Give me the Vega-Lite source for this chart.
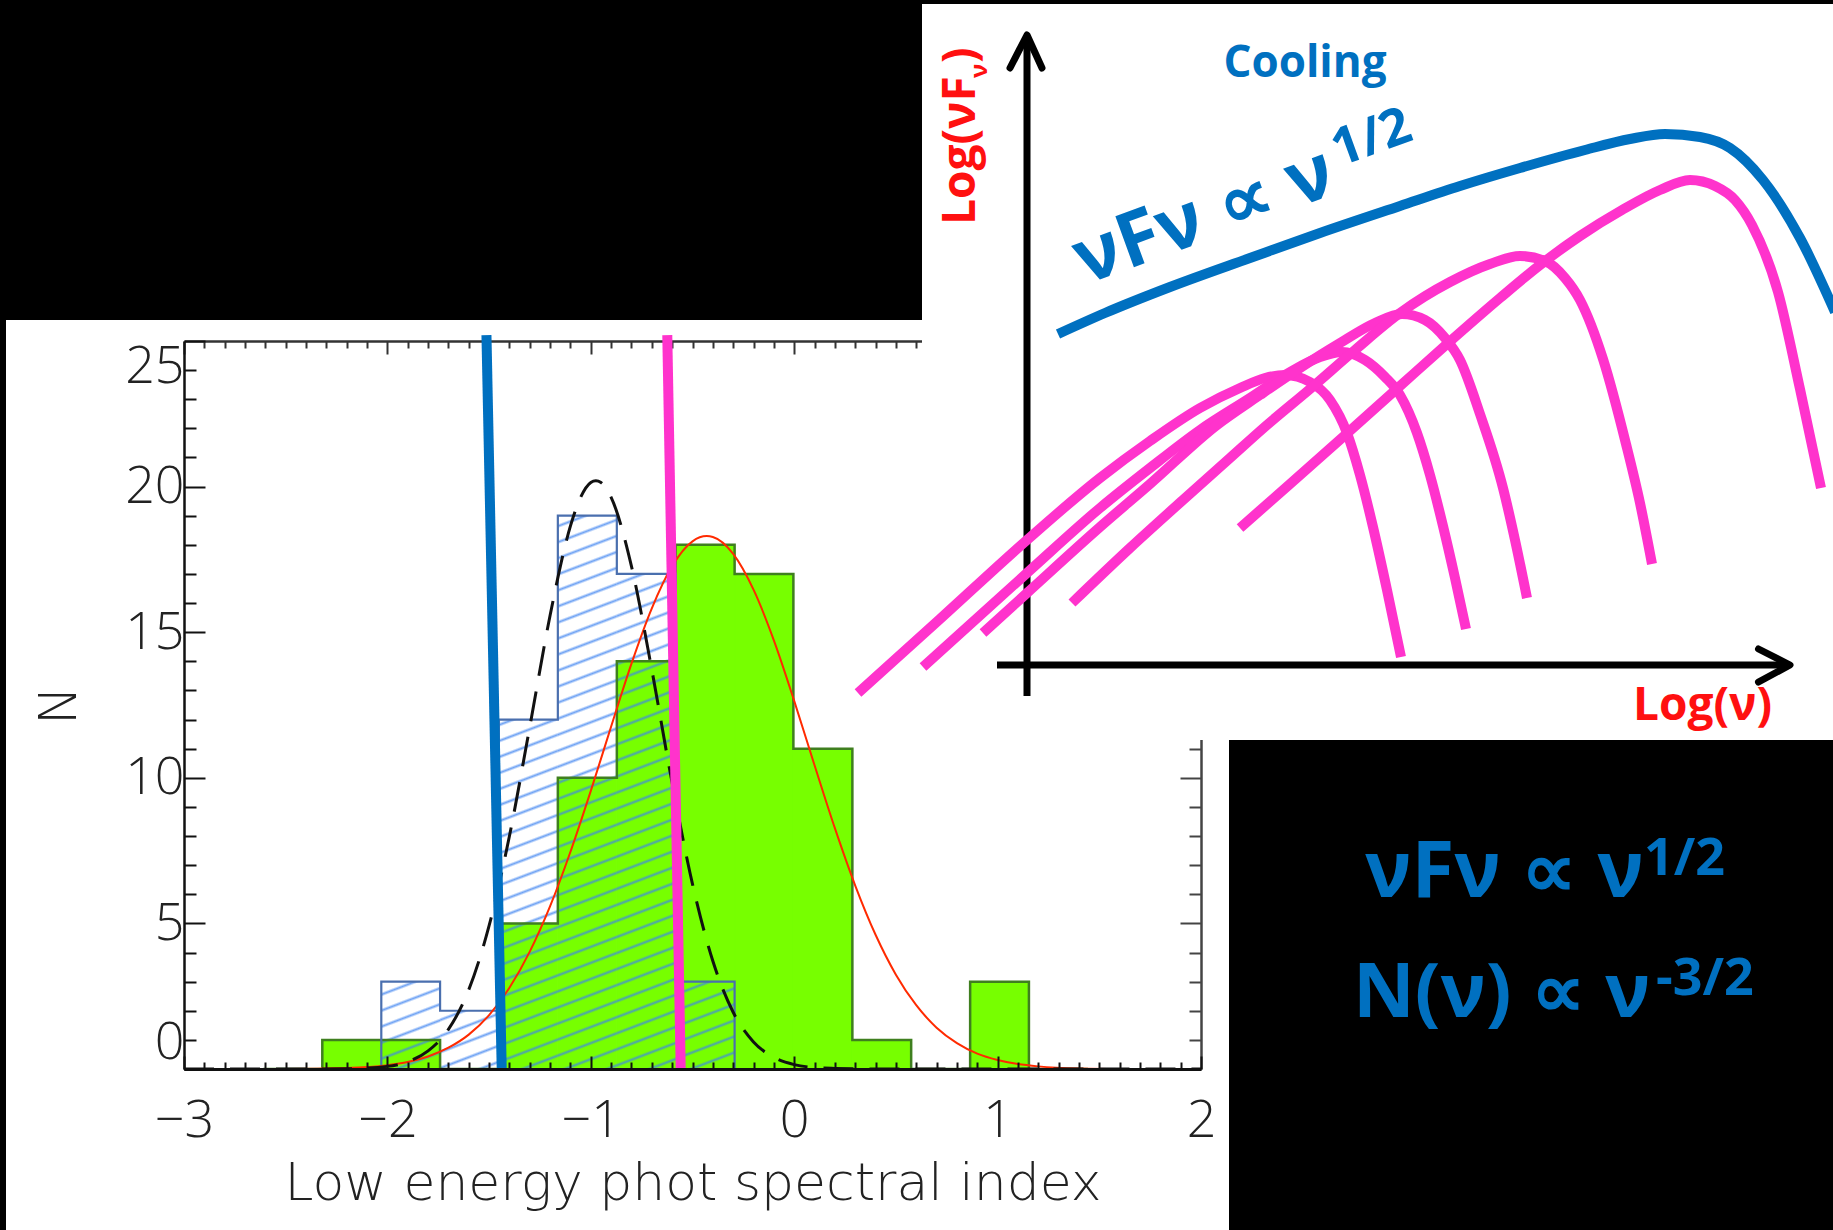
{
"$schema": "https://vega.github.io/schema/vega-lite/v6.json",
"width": 1017,
"height": 728,
"autosize": {"type": "none"},
"padding": {"left": 184, "top": 341, "right": 632, "bottom": 161},
"background": "white",
"config": {"view": {"stroke": null}, "axis": {"labelOverlap": false}},
"datasets": {
"hist": [
{"sample":"A","bin_start":-2.61,"bin_end":-2.32,"count":0},
{"sample":"A","bin_start":-2.32,"bin_end":-2.03,"count":1},
{"sample":"A","bin_start":-2.03,"bin_end":-1.741,"count":1},
{"sample":"A","bin_start":-1.741,"bin_end":-1.452,"count":0},
{"sample":"A","bin_start":-1.452,"bin_end":-1.162,"count":5},
{"sample":"A","bin_start":-1.162,"bin_end":-0.872,"count":10},
{"sample":"A","bin_start":-0.872,"bin_end":-0.583,"count":14},
{"sample":"A","bin_start":-0.583,"bin_end":-0.293,"count":18},
{"sample":"A","bin_start":-0.293,"bin_end":-0.004,"count":17},
{"sample":"A","bin_start":-0.004,"bin_end":0.286,"count":11},
{"sample":"A","bin_start":0.286,"bin_end":0.575,"count":1},
{"sample":"A","bin_start":0.575,"bin_end":0.865,"count":0},
{"sample":"A","bin_start":0.865,"bin_end":1.154,"count":3},
{"sample":"A","bin_start":1.154,"bin_end":1.444,"count":0},
{"sample":"B","bin_start":-2.32,"bin_end":-2.03,"count":0},
{"sample":"B","bin_start":-2.03,"bin_end":-1.741,"count":3},
{"sample":"B","bin_start":-1.741,"bin_end":-1.452,"count":2},
{"sample":"B","bin_start":-1.452,"bin_end":-1.162,"count":12},
{"sample":"B","bin_start":-1.162,"bin_end":-0.872,"count":19},
{"sample":"B","bin_start":-0.872,"bin_end":-0.583,"count":17},
{"sample":"B","bin_start":-0.583,"bin_end":-0.293,"count":3},
{"sample":"B","bin_start":-0.293,"bin_end":-0.004,"count":0}
],
"fits": [
{"fit":"B","alpha":-3.0,"N":0},{"fit":"B","alpha":-2.5,"N":0},{"fit":"B","alpha":-2.2,"N":0.01},{"fit":"B","alpha":-2.0,"N":0.09},
{"fit":"B","alpha":-1.9,"N":0.25},{"fit":"B","alpha":-1.8,"N":0.62},{"fit":"B","alpha":-1.7,"N":1.36},{"fit":"B","alpha":-1.6,"N":2.72},
{"fit":"B","alpha":-1.5,"N":4.92},{"fit":"B","alpha":-1.4,"N":8.0},{"fit":"B","alpha":-1.3,"N":11.75},{"fit":"B","alpha":-1.2,"N":15.58},
{"fit":"B","alpha":-1.1,"N":18.65},{"fit":"B","alpha":-1.05,"N":19.63},{"fit":"B","alpha":-1.0,"N":20.14},{"fit":"B","alpha":-0.975,"N":20.2},
{"fit":"B","alpha":-0.95,"N":20.14},{"fit":"B","alpha":-0.9,"N":19.63},{"fit":"B","alpha":-0.8,"N":17.26},{"fit":"B","alpha":-0.7,"N":13.71},
{"fit":"B","alpha":-0.6,"N":9.82},{"fit":"B","alpha":-0.5,"N":6.35},{"fit":"B","alpha":-0.4,"N":3.71},{"fit":"B","alpha":-0.3,"N":1.95},
{"fit":"B","alpha":-0.2,"N":0.93},{"fit":"B","alpha":-0.1,"N":0.4},{"fit":"B","alpha":0.0,"N":0.15},{"fit":"B","alpha":0.1,"N":0.05},
{"fit":"B","alpha":0.2,"N":0.02},{"fit":"B","alpha":0.4,"N":0},{"fit":"B","alpha":1.0,"N":0},{"fit":"B","alpha":2.0,"N":0},
{"fit":"A","alpha":-3.0,"N":0},{"fit":"A","alpha":-2.5,"N":0.004},{"fit":"A","alpha":-2.2,"N":0.035},{"fit":"A","alpha":-2.0,"N":0.13},
{"fit":"A","alpha":-1.9,"N":0.24},{"fit":"A","alpha":-1.8,"N":0.43},{"fit":"A","alpha":-1.7,"N":0.73},{"fit":"A","alpha":-1.6,"N":1.18},
{"fit":"A","alpha":-1.5,"N":1.85},{"fit":"A","alpha":-1.4,"N":2.79},{"fit":"A","alpha":-1.3,"N":4.03},{"fit":"A","alpha":-1.2,"N":5.59},
{"fit":"A","alpha":-1.1,"N":7.46},{"fit":"A","alpha":-1.0,"N":9.55},{"fit":"A","alpha":-0.9,"N":11.76},{"fit":"A","alpha":-0.8,"N":13.92},
{"fit":"A","alpha":-0.7,"N":15.82},{"fit":"A","alpha":-0.6,"N":17.27},{"fit":"A","alpha":-0.5,"N":18.12},{"fit":"A","alpha":-0.43,"N":18.3},
{"fit":"A","alpha":-0.4,"N":18.27},{"fit":"A","alpha":-0.3,"N":17.69},{"fit":"A","alpha":-0.2,"N":16.46},{"fit":"A","alpha":-0.1,"N":14.72},
{"fit":"A","alpha":0.0,"N":12.64},{"fit":"A","alpha":0.1,"N":10.43},{"fit":"A","alpha":0.2,"N":8.27},{"fit":"A","alpha":0.3,"N":6.3},
{"fit":"A","alpha":0.4,"N":4.61},{"fit":"A","alpha":0.5,"N":3.24},{"fit":"A","alpha":0.6,"N":2.19},{"fit":"A","alpha":0.7,"N":1.42},
{"fit":"A","alpha":0.8,"N":0.89},{"fit":"A","alpha":0.9,"N":0.53},{"fit":"A","alpha":1.0,"N":0.31},{"fit":"A","alpha":1.1,"N":0.17},
{"fit":"A","alpha":1.2,"N":0.09},{"fit":"A","alpha":1.4,"N":0.02},{"fit":"A","alpha":1.6,"N":0.004},{"fit":"A","alpha":2.0,"N":0}
],
"limits": [
{"limit":"cooling (-3/2)","x_top":-1.513,"N_top":25.2,"x_bottom":-1.438,"N_bottom":0},
{"limit":"synchrotron (-2/3)","x_top":-0.624,"N_top":25.2,"x_bottom":-0.558,"N_bottom":0}
],
"sketch": [
{"curve":"axis_x","i":0,"u":-0.3,"v":0},{"curve":"axis_x","i":1,"u":7.63,"v":0},
{"curve":"axis_y","i":0,"u":0,"v":-0.31},{"curve":"axis_y","i":1,"u":0,"v":6.3},
{"curve":"arrow_x","i":0,"u":7.315,"v":0.16},{"curve":"arrow_x","i":1,"u":7.63,"v":0},{"curve":"arrow_x","i":2,"u":7.315,"v":-0.17},
{"curve":"arrow_y","i":0,"u":-0.17,"v":5.97},{"curve":"arrow_y","i":1,"u":0,"v":6.3},{"curve":"arrow_y","i":2,"u":0.15,"v":5.97},
{"curve":"cooling","i":0,"u":0.31,"v":3.31},{"curve":"cooling","i":1,"u":0.78,"v":3.52},{"curve":"cooling","i":2,"u":1.43,"v":3.78},
{"curve":"cooling","i":3,"u":2.23,"v":4.07},{"curve":"cooling","i":4,"u":2.93,"v":4.32},{"curve":"cooling","i":5,"u":3.73,"v":4.59},
{"curve":"cooling","i":6,"u":4.33,"v":4.79},{"curve":"cooling","i":7,"u":4.93,"v":4.97},{"curve":"cooling","i":8,"u":5.58,"v":5.15},
{"curve":"cooling","i":9,"u":6.03,"v":5.26},{"curve":"cooling","i":10,"u":6.38,"v":5.31},{"curve":"cooling","i":11,"u":6.73,"v":5.28},
{"curve":"cooling","i":12,"u":7.03,"v":5.17},{"curve":"cooling","i":13,"u":7.36,"v":4.85},{"curve":"cooling","i":14,"u":7.73,"v":4.27},
{"curve":"cooling","i":15,"u":8.08,"v":3.53},
{"curve":"sync_1","i":0,"u":-1.69,"v":-0.28},{"curve":"sync_1","i":1,"u":-0.87,"v":0.46},{"curve":"sync_1","i":2,"u":0.0,"v":1.25},
{"curve":"sync_1","i":3,"u":0.73,"v":1.87},{"curve":"sync_1","i":4,"u":1.23,"v":2.24},{"curve":"sync_1","i":5,"u":1.73,"v":2.57},
{"curve":"sync_1","i":6,"u":2.13,"v":2.77},{"curve":"sync_1","i":7,"u":2.38,"v":2.87},{"curve":"sync_1","i":8,"u":2.58,"v":2.9},
{"curve":"sync_1","i":9,"u":2.83,"v":2.83},{"curve":"sync_1","i":10,"u":3.03,"v":2.65},{"curve":"sync_1","i":11,"u":3.2,"v":2.32},
{"curve":"sync_1","i":12,"u":3.33,"v":1.9},{"curve":"sync_1","i":13,"u":3.46,"v":1.38},{"curve":"sync_1","i":14,"u":3.6,"v":0.75},
{"curve":"sync_1","i":15,"u":3.74,"v":0.08},
{"curve":"sync_2","i":0,"u":-1.04,"v":-0.02},{"curve":"sync_2","i":1,"u":0.0,"v":0.92},{"curve":"sync_2","i":2,"u":0.73,"v":1.57},
{"curve":"sync_2","i":3,"u":1.23,"v":1.97},{"curve":"sync_2","i":4,"u":1.73,"v":2.35},{"curve":"sync_2","i":5,"u":2.23,"v":2.67},
{"curve":"sync_2","i":6,"u":2.63,"v":2.93},{"curve":"sync_2","i":7,"u":2.93,"v":3.08},{"curve":"sync_2","i":8,"u":3.15,"v":3.13},
{"curve":"sync_2","i":9,"u":3.38,"v":3.05},{"curve":"sync_2","i":10,"u":3.58,"v":2.88},{"curve":"sync_2","i":11,"u":3.73,"v":2.7},
{"curve":"sync_2","i":12,"u":3.9,"v":2.32},{"curve":"sync_2","i":13,"u":4.03,"v":1.9},{"curve":"sync_2","i":14,"u":4.16,"v":1.39},
{"curve":"sync_2","i":15,"u":4.28,"v":0.87},{"curve":"sync_2","i":16,"u":4.39,"v":0.36},
{"curve":"sync_3","i":0,"u":-0.44,"v":0.32},{"curve":"sync_3","i":1,"u":0.0,"v":0.72},{"curve":"sync_3","i":2,"u":0.73,"v":1.38},
{"curve":"sync_3","i":3,"u":1.23,"v":1.81},{"curve":"sync_3","i":4,"u":1.9,"v":2.4},{"curve":"sync_3","i":5,"u":2.33,"v":2.7},
{"curve":"sync_3","i":6,"u":2.73,"v":2.97},{"curve":"sync_3","i":7,"u":3.13,"v":3.22},{"curve":"sync_3","i":8,"u":3.48,"v":3.42},
{"curve":"sync_3","i":9,"u":3.75,"v":3.51},{"curve":"sync_3","i":10,"u":3.98,"v":3.45},{"curve":"sync_3","i":11,"u":4.18,"v":3.27},
{"curve":"sync_3","i":12,"u":4.33,"v":3.05},{"curve":"sync_3","i":13,"u":4.53,"v":2.51},{"curve":"sync_3","i":14,"u":4.76,"v":1.77},
{"curve":"sync_3","i":15,"u":4.88,"v":1.25},{"curve":"sync_3","i":16,"u":5.0,"v":0.67},
{"curve":"sync_4","i":0,"u":0.45,"v":0.62},{"curve":"sync_4","i":1,"u":1.03,"v":1.17},{"curve":"sync_4","i":2,"u":1.56,"v":1.65},
{"curve":"sync_4","i":3,"u":2.03,"v":2.07},{"curve":"sync_4","i":4,"u":2.4,"v":2.4},{"curve":"sync_4","i":5,"u":2.83,"v":2.76},
{"curve":"sync_4","i":6,"u":3.28,"v":3.15},{"curve":"sync_4","i":7,"u":3.73,"v":3.52},{"curve":"sync_4","i":8,"u":4.23,"v":3.83},
{"curve":"sync_4","i":9,"u":4.63,"v":4.01},{"curve":"sync_4","i":10,"u":4.93,"v":4.09},{"curve":"sync_4","i":11,"u":5.18,"v":4.04},
{"curve":"sync_4","i":12,"u":5.38,"v":3.87},{"curve":"sync_4","i":13,"u":5.53,"v":3.65},{"curve":"sync_4","i":14,"u":5.76,"v":3.06},
{"curve":"sync_4","i":15,"u":5.99,"v":2.21},{"curve":"sync_4","i":16,"u":6.13,"v":1.62},{"curve":"sync_4","i":17,"u":6.25,"v":1.01},
{"curve":"sync_5","i":0,"u":2.13,"v":1.37},{"curve":"sync_5","i":1,"u":2.63,"v":1.81},{"curve":"sync_5","i":2,"u":3.16,"v":2.28},
{"curve":"sync_5","i":3,"u":3.73,"v":2.79},{"curve":"sync_5","i":4,"u":4.2,"v":3.21},{"curve":"sync_5","i":5,"u":4.73,"v":3.67},
{"curve":"sync_5","i":6,"u":5.13,"v":4.0},{"curve":"sync_5","i":7,"u":5.53,"v":4.29},{"curve":"sync_5","i":8,"u":5.95,"v":4.55},
{"curve":"sync_5","i":9,"u":6.33,"v":4.75},{"curve":"sync_5","i":10,"u":6.63,"v":4.85},{"curve":"sync_5","i":11,"u":6.88,"v":4.79},
{"curve":"sync_5","i":12,"u":7.08,"v":4.65},{"curve":"sync_5","i":13,"u":7.25,"v":4.4},{"curve":"sync_5","i":14,"u":7.51,"v":3.73},
{"curve":"sync_5","i":15,"u":7.73,"v":2.76},{"curve":"sync_5","i":16,"u":7.94,"v":1.77}
]
},
"layer": [
{
"layer": [
{
"data": {"name": "hist"},
"transform": [{"filter": "datum.sample === 'A'"}],
"mark": {"type": "rect", "fill": "#77ff00", "stroke": "#77ff00", "strokeWidth": 1},
"encoding": {
"x": {"field": "bin_start", "type": "quantitative", "scale": {"domain": [-3, 2], "nice": false, "zero": false},
"axis": {"orient": "bottom", "zindex": 1, "values": [-3,-2,-1,0,1,2], "format": "d",
"tickSize": -13, "tickColor": "#111", "tickWidth": 2, "domainColor": "#111", "domainWidth": 3, "grid": false,
"labelFlush": false, "labelOverlap": false,
"labelFont": "Open Sans", "labelFontWeight": 300, "labelFontSize": 52, "labelColor": "#222", "labelPadding": 39,
"title": "Low energy phot spectral index", "titleFont": "DejaVu Sans", "titleFontWeight": 200, "titleFontSize": 52, "titleColor": "#222", "titlePadding": 12}},
"x2": {"field": "bin_end"},
"y": {"field": "count", "type": "quantitative", "scale": {"domain": [0, 25], "nice": false},
"axis": {"orient": "left", "zindex": 1, "values": [0,1,2,3,4,5,6,7,8,9,10,11,12,13,14,15,16,17,18,19,20,21,22,23,24,25],
"format": "d",
"tickSize": {"condition": {"test": "datum.value % 5 === 0", "value": -21}, "value": -12},
"tickColor": "#111", "tickWidth": 2, "domainColor": "#111", "domainWidth": 2.5, "grid": false,
"labelExpr": "datum.value % 5 === 0 ? datum.label : ''",
"labelFlush": true, "labelOverlap": false,
"labelFont": "Open Sans", "labelFontWeight": 300, "labelFontSize": 52, "labelColor": "#222", "labelPadding": 21,
"title": "N", "titleFont": "DejaVu Sans", "titleFontWeight": 200, "titleFontSize": 52, "titleColor": "#222", "titlePadding": 38}},
"y2": {"datum": 0}
}
},
{
"data": {"name": "hist"},
"transform": [{"filter": "datum.sample === 'B'"}],
"mark": {"type": "rect", "opacity": 0},
"encoding": {
"x": {"field": "bin_start", "type": "quantitative", "scale": {"domain": [-3, 2], "nice": false, "zero": false},
"axis": {"orient": "top", "zindex": 0, "values": [-3,-2.9,-2.8,-2.7,-2.6,-2.5,-2.4,-2.3,-2.2,-2.1,-2,-1.9,-1.8,-1.7,-1.6,-1.5,-1.4,-1.3,-1.2,-1.1,-1,-0.9,-0.8,-0.7,-0.6,-0.5,-0.4,-0.3,-0.2,-0.1,0,0.1,0.2,0.3,0.4,0.5,0.6,0.7,0.8,0.9,1,1.1,1.2,1.3,1.4,1.5,1.6,1.7,1.8,1.9,2],
"tickSize": {"condition": {"test": "datum.value % 1 === 0", "value": -13}, "value": -7},
"tickColor": "#333", "tickWidth": 2, "domainColor": "#333", "domainWidth": 2.5, "grid": false, "labels": false, "title": null}},
"x2": {"field": "bin_end"},
"y": {"field": "count", "type": "quantitative", "scale": {"domain": [0, 25], "nice": false},
"axis": {"orient": "right", "zindex": 0, "values": [0,1,2,3,4,5,6,7,8,9,10,11,12,13,14,15,16,17,18,19,20,21,22,23,24,25],
"tickSize": {"condition": {"test": "datum.value % 5 === 0", "value": -21}, "value": -12},
"tickColor": "#444", "tickWidth": 2, "domainColor": "#444", "domainWidth": 2.5, "grid": false, "labels": false, "title": null}},
"y2": {"datum": 0}
}
},
{
"data": {"name": "hist"},
"transform": [{"filter": "datum.sample === 'B' && datum.count === 2"}],
"mark": {"type": "rect", "fill": {"gradient": "linear", "x1": 0, "y1": 0, "x2": 0.4632, "y2": 1.2061, "stops": [
{"offset":0.0857,"color":"rgba(60,130,240,0)"},{"offset":0.1149,"color":"rgba(60,130,240,0.75)"},{"offset":0.1441,"color":"rgba(60,130,240,0)"},
{"offset":0.2848,"color":"rgba(60,130,240,0)"},{"offset":0.3140,"color":"rgba(60,130,240,0.75)"},{"offset":0.3432,"color":"rgba(60,130,240,0)"},
{"offset":0.4838,"color":"rgba(60,130,240,0)"},{"offset":0.5130,"color":"rgba(60,130,240,0.75)"},{"offset":0.5422,"color":"rgba(60,130,240,0)"},
{"offset":0.6829,"color":"rgba(60,130,240,0)"},{"offset":0.7121,"color":"rgba(60,130,240,0.75)"},{"offset":0.7413,"color":"rgba(60,130,240,0)"},
{"offset":0.8819,"color":"rgba(60,130,240,0)"},{"offset":0.9111,"color":"rgba(60,130,240,0.75)"},{"offset":0.9403,"color":"rgba(60,130,240,0)"}
]}},
"encoding": {
"x": {"field": "bin_start", "type": "quantitative", "scale": {"domain": [-3, 2], "nice": false, "zero": false}, "axis": null},
"x2": {"field": "bin_end"},
"y": {"field": "count", "type": "quantitative", "scale": {"domain": [0, 25], "nice": false}, "axis": null},
"y2": {"datum": 0}
}
},
{
"data": {"name": "hist"},
"transform": [{"filter": "datum.sample === 'B' && datum.count === 3"}],
"mark": {"type": "rect", "fill": {"gradient": "linear", "x1": 0, "y1": 0, "x2": 0.3018, "y2": 1.1788, "stops": [
{"offset":0.0965,"color":"rgba(60,130,240,0)"},{"offset":0.1179,"color":"rgba(60,130,240,0.75)"},{"offset":0.1393,"color":"rgba(60,130,240,0)"},
{"offset":0.2427,"color":"rgba(60,130,240,0)"},{"offset":0.2641,"color":"rgba(60,130,240,0.75)"},{"offset":0.2855,"color":"rgba(60,130,240,0)"},
{"offset":0.3889,"color":"rgba(60,130,240,0)"},{"offset":0.4103,"color":"rgba(60,130,240,0.75)"},{"offset":0.4317,"color":"rgba(60,130,240,0)"},
{"offset":0.5351,"color":"rgba(60,130,240,0)"},{"offset":0.5565,"color":"rgba(60,130,240,0.75)"},{"offset":0.5779,"color":"rgba(60,130,240,0)"},
{"offset":0.6813,"color":"rgba(60,130,240,0)"},{"offset":0.7027,"color":"rgba(60,130,240,0.75)"},{"offset":0.7241,"color":"rgba(60,130,240,0)"},
{"offset":0.8275,"color":"rgba(60,130,240,0)"},{"offset":0.8489,"color":"rgba(60,130,240,0.75)"},{"offset":0.8703,"color":"rgba(60,130,240,0)"}
]}},
"encoding": {
"x": {"field": "bin_start", "type": "quantitative", "scale": {"domain": [-3, 2], "nice": false, "zero": false}, "axis": null},
"x2": {"field": "bin_end"},
"y": {"field": "count", "type": "quantitative", "scale": {"domain": [0, 25], "nice": false}, "axis": null},
"y2": {"datum": 0}
}
},
{
"data": {"name": "hist"},
"transform": [{"filter": "datum.sample === 'B' && datum.count === 12"}],
"mark": {"type": "rect", "fill": {"gradient": "linear", "x1": 0, "y1": 0, "x2": 0.06782, "y2": 1.0597, "stops": [
{"offset":0.0082,"color":"rgba(60,130,240,0)"},{"offset":0.0146,"color":"rgba(60,130,240,0.75)"},{"offset":0.0209,"color":"rgba(60,130,240,0)"},
{"offset":0.0514,"color":"rgba(60,130,240,0)"},{"offset":0.0577,"color":"rgba(60,130,240,0.75)"},{"offset":0.0640,"color":"rgba(60,130,240,0)"},
{"offset":0.0945,"color":"rgba(60,130,240,0)"},{"offset":0.1009,"color":"rgba(60,130,240,0.75)"},{"offset":0.1072,"color":"rgba(60,130,240,0)"},
{"offset":0.1377,"color":"rgba(60,130,240,0)"},{"offset":0.1440,"color":"rgba(60,130,240,0.75)"},{"offset":0.1503,"color":"rgba(60,130,240,0)"},
{"offset":0.1808,"color":"rgba(60,130,240,0)"},{"offset":0.1872,"color":"rgba(60,130,240,0.75)"},{"offset":0.1935,"color":"rgba(60,130,240,0)"},
{"offset":0.2240,"color":"rgba(60,130,240,0)"},{"offset":0.2303,"color":"rgba(60,130,240,0.75)"},{"offset":0.2367,"color":"rgba(60,130,240,0)"},
{"offset":0.2671,"color":"rgba(60,130,240,0)"},{"offset":0.2735,"color":"rgba(60,130,240,0.75)"},{"offset":0.2798,"color":"rgba(60,130,240,0)"},
{"offset":0.3103,"color":"rgba(60,130,240,0)"},{"offset":0.3166,"color":"rgba(60,130,240,0.75)"},{"offset":0.3230,"color":"rgba(60,130,240,0)"},
{"offset":0.3535,"color":"rgba(60,130,240,0)"},{"offset":0.3598,"color":"rgba(60,130,240,0.75)"},{"offset":0.3661,"color":"rgba(60,130,240,0)"},
{"offset":0.3966,"color":"rgba(60,130,240,0)"},{"offset":0.4029,"color":"rgba(60,130,240,0.75)"},{"offset":0.4093,"color":"rgba(60,130,240,0)"},
{"offset":0.4398,"color":"rgba(60,130,240,0)"},{"offset":0.4461,"color":"rgba(60,130,240,0.75)"},{"offset":0.4524,"color":"rgba(60,130,240,0)"},
{"offset":0.4829,"color":"rgba(60,130,240,0)"},{"offset":0.4892,"color":"rgba(60,130,240,0.75)"},{"offset":0.4956,"color":"rgba(60,130,240,0)"},
{"offset":0.5261,"color":"rgba(60,130,240,0)"},{"offset":0.5324,"color":"rgba(60,130,240,0.75)"},{"offset":0.5387,"color":"rgba(60,130,240,0)"},
{"offset":0.5692,"color":"rgba(60,130,240,0)"},{"offset":0.5756,"color":"rgba(60,130,240,0.75)"},{"offset":0.5819,"color":"rgba(60,130,240,0)"},
{"offset":0.6124,"color":"rgba(60,130,240,0)"},{"offset":0.6187,"color":"rgba(60,130,240,0.75)"},{"offset":0.6250,"color":"rgba(60,130,240,0)"},
{"offset":0.6555,"color":"rgba(60,130,240,0)"},{"offset":0.6619,"color":"rgba(60,130,240,0.75)"},{"offset":0.6682,"color":"rgba(60,130,240,0)"},
{"offset":0.6987,"color":"rgba(60,130,240,0)"},{"offset":0.7050,"color":"rgba(60,130,240,0.75)"},{"offset":0.7113,"color":"rgba(60,130,240,0)"},
{"offset":0.7418,"color":"rgba(60,130,240,0)"},{"offset":0.7482,"color":"rgba(60,130,240,0.75)"},{"offset":0.7545,"color":"rgba(60,130,240,0)"},
{"offset":0.7850,"color":"rgba(60,130,240,0)"},{"offset":0.7913,"color":"rgba(60,130,240,0.75)"},{"offset":0.7976,"color":"rgba(60,130,240,0)"},
{"offset":0.8281,"color":"rgba(60,130,240,0)"},{"offset":0.8345,"color":"rgba(60,130,240,0.75)"},{"offset":0.8408,"color":"rgba(60,130,240,0)"},
{"offset":0.8713,"color":"rgba(60,130,240,0)"},{"offset":0.8776,"color":"rgba(60,130,240,0.75)"},{"offset":0.8839,"color":"rgba(60,130,240,0)"},
{"offset":0.9144,"color":"rgba(60,130,240,0)"},{"offset":0.9208,"color":"rgba(60,130,240,0.75)"},{"offset":0.9271,"color":"rgba(60,130,240,0)"},
{"offset":0.9576,"color":"rgba(60,130,240,0)"},{"offset":0.9639,"color":"rgba(60,130,240,0.75)"},{"offset":0.9703,"color":"rgba(60,130,240,0)"}
]}},
"encoding": {
"x": {"field": "bin_start", "type": "quantitative", "scale": {"domain": [-3, 2], "nice": false, "zero": false}, "axis": null},
"x2": {"field": "bin_end"},
"y": {"field": "count", "type": "quantitative", "scale": {"domain": [0, 25], "nice": false}, "axis": null},
"y2": {"datum": 0}
}
},
{
"data": {"name": "hist"},
"transform": [{"filter": "datum.sample === 'B' && datum.count === 19"}],
"mark": {"type": "rect", "fill": {"gradient": "linear", "x1": 0, "y1": 0, "x2": 0.04199, "y2": 1.0387, "stops": [
{"offset":0.0141,"color":"rgba(60,130,240,0)"},{"offset":0.0182,"color":"rgba(60,130,240,0.75)"},{"offset":0.0223,"color":"rgba(60,130,240,0)"},
{"offset":0.0419,"color":"rgba(60,130,240,0)"},{"offset":0.0460,"color":"rgba(60,130,240,0.75)"},{"offset":0.0501,"color":"rgba(60,130,240,0)"},
{"offset":0.0698,"color":"rgba(60,130,240,0)"},{"offset":0.0739,"color":"rgba(60,130,240,0.75)"},{"offset":0.0780,"color":"rgba(60,130,240,0)"},
{"offset":0.0977,"color":"rgba(60,130,240,0)"},{"offset":0.1018,"color":"rgba(60,130,240,0.75)"},{"offset":0.1059,"color":"rgba(60,130,240,0)"},
{"offset":0.1255,"color":"rgba(60,130,240,0)"},{"offset":0.1296,"color":"rgba(60,130,240,0.75)"},{"offset":0.1337,"color":"rgba(60,130,240,0)"},
{"offset":0.1534,"color":"rgba(60,130,240,0)"},{"offset":0.1575,"color":"rgba(60,130,240,0.75)"},{"offset":0.1616,"color":"rgba(60,130,240,0)"},
{"offset":0.1813,"color":"rgba(60,130,240,0)"},{"offset":0.1854,"color":"rgba(60,130,240,0.75)"},{"offset":0.1895,"color":"rgba(60,130,240,0)"},
{"offset":0.2092,"color":"rgba(60,130,240,0)"},{"offset":0.2133,"color":"rgba(60,130,240,0.75)"},{"offset":0.2174,"color":"rgba(60,130,240,0)"},
{"offset":0.2370,"color":"rgba(60,130,240,0)"},{"offset":0.2411,"color":"rgba(60,130,240,0.75)"},{"offset":0.2452,"color":"rgba(60,130,240,0)"},
{"offset":0.2649,"color":"rgba(60,130,240,0)"},{"offset":0.2690,"color":"rgba(60,130,240,0.75)"},{"offset":0.2731,"color":"rgba(60,130,240,0)"},
{"offset":0.2928,"color":"rgba(60,130,240,0)"},{"offset":0.2969,"color":"rgba(60,130,240,0.75)"},{"offset":0.3010,"color":"rgba(60,130,240,0)"},
{"offset":0.3206,"color":"rgba(60,130,240,0)"},{"offset":0.3247,"color":"rgba(60,130,240,0.75)"},{"offset":0.3288,"color":"rgba(60,130,240,0)"},
{"offset":0.3485,"color":"rgba(60,130,240,0)"},{"offset":0.3526,"color":"rgba(60,130,240,0.75)"},{"offset":0.3567,"color":"rgba(60,130,240,0)"},
{"offset":0.3764,"color":"rgba(60,130,240,0)"},{"offset":0.3805,"color":"rgba(60,130,240,0.75)"},{"offset":0.3846,"color":"rgba(60,130,240,0)"},
{"offset":0.4043,"color":"rgba(60,130,240,0)"},{"offset":0.4084,"color":"rgba(60,130,240,0.75)"},{"offset":0.4125,"color":"rgba(60,130,240,0)"},
{"offset":0.4321,"color":"rgba(60,130,240,0)"},{"offset":0.4362,"color":"rgba(60,130,240,0.75)"},{"offset":0.4403,"color":"rgba(60,130,240,0)"},
{"offset":0.4600,"color":"rgba(60,130,240,0)"},{"offset":0.4641,"color":"rgba(60,130,240,0.75)"},{"offset":0.4682,"color":"rgba(60,130,240,0)"},
{"offset":0.4879,"color":"rgba(60,130,240,0)"},{"offset":0.4920,"color":"rgba(60,130,240,0.75)"},{"offset":0.4961,"color":"rgba(60,130,240,0)"},
{"offset":0.5157,"color":"rgba(60,130,240,0)"},{"offset":0.5198,"color":"rgba(60,130,240,0.75)"},{"offset":0.5239,"color":"rgba(60,130,240,0)"},
{"offset":0.5436,"color":"rgba(60,130,240,0)"},{"offset":0.5477,"color":"rgba(60,130,240,0.75)"},{"offset":0.5518,"color":"rgba(60,130,240,0)"},
{"offset":0.5715,"color":"rgba(60,130,240,0)"},{"offset":0.5756,"color":"rgba(60,130,240,0.75)"},{"offset":0.5797,"color":"rgba(60,130,240,0)"},
{"offset":0.5993,"color":"rgba(60,130,240,0)"},{"offset":0.6034,"color":"rgba(60,130,240,0.75)"},{"offset":0.6075,"color":"rgba(60,130,240,0)"},
{"offset":0.6272,"color":"rgba(60,130,240,0)"},{"offset":0.6313,"color":"rgba(60,130,240,0.75)"},{"offset":0.6354,"color":"rgba(60,130,240,0)"},
{"offset":0.6551,"color":"rgba(60,130,240,0)"},{"offset":0.6592,"color":"rgba(60,130,240,0.75)"},{"offset":0.6633,"color":"rgba(60,130,240,0)"},
{"offset":0.6830,"color":"rgba(60,130,240,0)"},{"offset":0.6871,"color":"rgba(60,130,240,0.75)"},{"offset":0.6912,"color":"rgba(60,130,240,0)"},
{"offset":0.7108,"color":"rgba(60,130,240,0)"},{"offset":0.7149,"color":"rgba(60,130,240,0.75)"},{"offset":0.7190,"color":"rgba(60,130,240,0)"},
{"offset":0.7387,"color":"rgba(60,130,240,0)"},{"offset":0.7428,"color":"rgba(60,130,240,0.75)"},{"offset":0.7469,"color":"rgba(60,130,240,0)"},
{"offset":0.7666,"color":"rgba(60,130,240,0)"},{"offset":0.7707,"color":"rgba(60,130,240,0.75)"},{"offset":0.7748,"color":"rgba(60,130,240,0)"},
{"offset":0.7944,"color":"rgba(60,130,240,0)"},{"offset":0.7985,"color":"rgba(60,130,240,0.75)"},{"offset":0.8026,"color":"rgba(60,130,240,0)"},
{"offset":0.8223,"color":"rgba(60,130,240,0)"},{"offset":0.8264,"color":"rgba(60,130,240,0.75)"},{"offset":0.8305,"color":"rgba(60,130,240,0)"},
{"offset":0.8502,"color":"rgba(60,130,240,0)"},{"offset":0.8543,"color":"rgba(60,130,240,0.75)"},{"offset":0.8584,"color":"rgba(60,130,240,0)"},
{"offset":0.8781,"color":"rgba(60,130,240,0)"},{"offset":0.8822,"color":"rgba(60,130,240,0.75)"},{"offset":0.8863,"color":"rgba(60,130,240,0)"},
{"offset":0.9059,"color":"rgba(60,130,240,0)"},{"offset":0.9100,"color":"rgba(60,130,240,0.75)"},{"offset":0.9141,"color":"rgba(60,130,240,0)"},
{"offset":0.9338,"color":"rgba(60,130,240,0)"},{"offset":0.9379,"color":"rgba(60,130,240,0.75)"},{"offset":0.9420,"color":"rgba(60,130,240,0)"},
{"offset":0.9617,"color":"rgba(60,130,240,0)"},{"offset":0.9658,"color":"rgba(60,130,240,0.75)"},{"offset":0.9699,"color":"rgba(60,130,240,0)"},
{"offset":0.9895,"color":"rgba(60,130,240,0)"},{"offset":0.9936,"color":"rgba(60,130,240,0.75)"},{"offset":0.9977,"color":"rgba(60,130,240,0)"}
]}},
"encoding": {
"x": {"field": "bin_start", "type": "quantitative", "scale": {"domain": [-3, 2], "nice": false, "zero": false}, "axis": null},
"x2": {"field": "bin_end"},
"y": {"field": "count", "type": "quantitative", "scale": {"domain": [0, 25], "nice": false}, "axis": null},
"y2": {"datum": 0}
}
},
{
"data": {"name": "hist"},
"transform": [{"filter": "datum.sample === 'B' && datum.count === 17"}],
"mark": {"type": "rect", "fill": {"gradient": "linear", "x1": 0, "y1": 0, "x2": 0.04713, "y2": 1.0431, "stops": [
{"offset":0.0147,"color":"rgba(60,130,240,0)"},{"offset":0.0193,"color":"rgba(60,130,240,0.75)"},{"offset":0.0239,"color":"rgba(60,130,240,0)"},
{"offset":0.0457,"color":"rgba(60,130,240,0)"},{"offset":0.0503,"color":"rgba(60,130,240,0.75)"},{"offset":0.0549,"color":"rgba(60,130,240,0)"},
{"offset":0.0767,"color":"rgba(60,130,240,0)"},{"offset":0.0814,"color":"rgba(60,130,240,0.75)"},{"offset":0.0860,"color":"rgba(60,130,240,0)"},
{"offset":0.1078,"color":"rgba(60,130,240,0)"},{"offset":0.1124,"color":"rgba(60,130,240,0.75)"},{"offset":0.1170,"color":"rgba(60,130,240,0)"},
{"offset":0.1388,"color":"rgba(60,130,240,0)"},{"offset":0.1434,"color":"rgba(60,130,240,0.75)"},{"offset":0.1480,"color":"rgba(60,130,240,0)"},
{"offset":0.1698,"color":"rgba(60,130,240,0)"},{"offset":0.1744,"color":"rgba(60,130,240,0.75)"},{"offset":0.1790,"color":"rgba(60,130,240,0)"},
{"offset":0.2008,"color":"rgba(60,130,240,0)"},{"offset":0.2054,"color":"rgba(60,130,240,0.75)"},{"offset":0.2100,"color":"rgba(60,130,240,0)"},
{"offset":0.2318,"color":"rgba(60,130,240,0)"},{"offset":0.2364,"color":"rgba(60,130,240,0.75)"},{"offset":0.2410,"color":"rgba(60,130,240,0)"},
{"offset":0.2628,"color":"rgba(60,130,240,0)"},{"offset":0.2674,"color":"rgba(60,130,240,0.75)"},{"offset":0.2720,"color":"rgba(60,130,240,0)"},
{"offset":0.2938,"color":"rgba(60,130,240,0)"},{"offset":0.2984,"color":"rgba(60,130,240,0.75)"},{"offset":0.3030,"color":"rgba(60,130,240,0)"},
{"offset":0.3248,"color":"rgba(60,130,240,0)"},{"offset":0.3294,"color":"rgba(60,130,240,0.75)"},{"offset":0.3340,"color":"rgba(60,130,240,0)"},
{"offset":0.3558,"color":"rgba(60,130,240,0)"},{"offset":0.3605,"color":"rgba(60,130,240,0.75)"},{"offset":0.3651,"color":"rgba(60,130,240,0)"},
{"offset":0.3869,"color":"rgba(60,130,240,0)"},{"offset":0.3915,"color":"rgba(60,130,240,0.75)"},{"offset":0.3961,"color":"rgba(60,130,240,0)"},
{"offset":0.4179,"color":"rgba(60,130,240,0)"},{"offset":0.4225,"color":"rgba(60,130,240,0.75)"},{"offset":0.4271,"color":"rgba(60,130,240,0)"},
{"offset":0.4489,"color":"rgba(60,130,240,0)"},{"offset":0.4535,"color":"rgba(60,130,240,0.75)"},{"offset":0.4581,"color":"rgba(60,130,240,0)"},
{"offset":0.4799,"color":"rgba(60,130,240,0)"},{"offset":0.4845,"color":"rgba(60,130,240,0.75)"},{"offset":0.4891,"color":"rgba(60,130,240,0)"},
{"offset":0.5109,"color":"rgba(60,130,240,0)"},{"offset":0.5155,"color":"rgba(60,130,240,0.75)"},{"offset":0.5201,"color":"rgba(60,130,240,0)"},
{"offset":0.5419,"color":"rgba(60,130,240,0)"},{"offset":0.5465,"color":"rgba(60,130,240,0.75)"},{"offset":0.5511,"color":"rgba(60,130,240,0)"},
{"offset":0.5729,"color":"rgba(60,130,240,0)"},{"offset":0.5775,"color":"rgba(60,130,240,0.75)"},{"offset":0.5821,"color":"rgba(60,130,240,0)"},
{"offset":0.6039,"color":"rgba(60,130,240,0)"},{"offset":0.6085,"color":"rgba(60,130,240,0.75)"},{"offset":0.6131,"color":"rgba(60,130,240,0)"},
{"offset":0.6349,"color":"rgba(60,130,240,0)"},{"offset":0.6396,"color":"rgba(60,130,240,0.75)"},{"offset":0.6442,"color":"rgba(60,130,240,0)"},
{"offset":0.6660,"color":"rgba(60,130,240,0)"},{"offset":0.6706,"color":"rgba(60,130,240,0.75)"},{"offset":0.6752,"color":"rgba(60,130,240,0)"},
{"offset":0.6970,"color":"rgba(60,130,240,0)"},{"offset":0.7016,"color":"rgba(60,130,240,0.75)"},{"offset":0.7062,"color":"rgba(60,130,240,0)"},
{"offset":0.7280,"color":"rgba(60,130,240,0)"},{"offset":0.7326,"color":"rgba(60,130,240,0.75)"},{"offset":0.7372,"color":"rgba(60,130,240,0)"},
{"offset":0.7590,"color":"rgba(60,130,240,0)"},{"offset":0.7636,"color":"rgba(60,130,240,0.75)"},{"offset":0.7682,"color":"rgba(60,130,240,0)"},
{"offset":0.7900,"color":"rgba(60,130,240,0)"},{"offset":0.7946,"color":"rgba(60,130,240,0.75)"},{"offset":0.7992,"color":"rgba(60,130,240,0)"},
{"offset":0.8210,"color":"rgba(60,130,240,0)"},{"offset":0.8256,"color":"rgba(60,130,240,0.75)"},{"offset":0.8302,"color":"rgba(60,130,240,0)"},
{"offset":0.8520,"color":"rgba(60,130,240,0)"},{"offset":0.8566,"color":"rgba(60,130,240,0.75)"},{"offset":0.8612,"color":"rgba(60,130,240,0)"},
{"offset":0.8830,"color":"rgba(60,130,240,0)"},{"offset":0.8876,"color":"rgba(60,130,240,0.75)"},{"offset":0.8922,"color":"rgba(60,130,240,0)"},
{"offset":0.9140,"color":"rgba(60,130,240,0)"},{"offset":0.9187,"color":"rgba(60,130,240,0.75)"},{"offset":0.9233,"color":"rgba(60,130,240,0)"},
{"offset":0.9451,"color":"rgba(60,130,240,0)"},{"offset":0.9497,"color":"rgba(60,130,240,0.75)"},{"offset":0.9543,"color":"rgba(60,130,240,0)"},
{"offset":0.9761,"color":"rgba(60,130,240,0)"},{"offset":0.9807,"color":"rgba(60,130,240,0.75)"},{"offset":0.9853,"color":"rgba(60,130,240,0)"}
]}},
"encoding": {
"x": {"field": "bin_start", "type": "quantitative", "scale": {"domain": [-3, 2], "nice": false, "zero": false}, "axis": null},
"x2": {"field": "bin_end"},
"y": {"field": "count", "type": "quantitative", "scale": {"domain": [0, 25], "nice": false}, "axis": null},
"y2": {"datum": 0}
}
},
{
"data": {"name": "hist"},
"transform": [{"filter": "datum.sample === 'A'"}, {"fold": ["bin_start", "bin_end"], "as": ["edge", "alpha"]}],
"mark": {"type": "line", "color": "#3f7f1f", "strokeWidth": 2.5},
"encoding": {
"x": {"field": "alpha", "type": "quantitative", "scale": {"domain": [-3, 2], "nice": false, "zero": false},
"axis": {"orient": "bottom", "zindex": 1, "values": [-2.9,-2.8,-2.7,-2.6,-2.5,-2.4,-2.3,-2.2,-2.1,-1.9,-1.8,-1.7,-1.6,-1.5,-1.4,-1.3,-1.2,-1.1,-0.9,-0.8,-0.7,-0.6,-0.5,-0.4,-0.3,-0.2,-0.1,0.1,0.2,0.3,0.4,0.5,0.6,0.7,0.8,0.9,1.1,1.2,1.3,1.4,1.5,1.6,1.7,1.8,1.9],
"tickSize": -7, "tickColor": "#111", "tickWidth": 2, "domain": false, "grid": false, "labels": false, "title": null}},
"y": {"field": "count", "type": "quantitative", "scale": {"domain": [0, 25], "nice": false}, "axis": null},
"order": [{"field": "alpha", "type": "quantitative"}, {"field": "edge", "type": "ordinal"}]
}
},
{
"data": {"name": "hist"},
"transform": [{"filter": "datum.sample === 'B'"}, {"fold": ["bin_start", "bin_end"], "as": ["edge", "alpha"]}],
"mark": {"type": "line", "color": "#4a6fae", "strokeWidth": 2.2},
"encoding": {
"x": {"field": "alpha", "type": "quantitative", "scale": {"domain": [-3, 2], "nice": false, "zero": false}, "axis": null},
"y": {"field": "count", "type": "quantitative", "scale": {"domain": [0, 25], "nice": false}, "axis": null},
"order": [{"field": "alpha", "type": "quantitative"}, {"field": "edge", "type": "ordinal"}]
}
},
{
"data": {"name": "fits"},
"transform": [{"filter": "datum.fit === 'A'"}],
"mark": {"type": "line", "color": "#ff2a00", "strokeWidth": 2, "interpolate": "monotone"},
"encoding": {
"x": {"field": "alpha", "type": "quantitative", "scale": {"domain": [-3, 2], "nice": false, "zero": false}, "axis": null},
"y": {"field": "N", "type": "quantitative", "scale": {"domain": [0, 25], "nice": false}, "axis": null}
}
},
{
"data": {"name": "fits"},
"transform": [{"filter": "datum.fit === 'B'"}],
"mark": {"type": "line", "color": "#111111", "strokeWidth": 3, "strokeDash": [30, 16], "interpolate": "monotone"},
"encoding": {
"x": {"field": "alpha", "type": "quantitative", "scale": {"domain": [-3, 2], "nice": false, "zero": false}, "axis": null},
"y": {"field": "N", "type": "quantitative", "scale": {"domain": [0, 25], "nice": false}, "axis": null}
}
},
{
"data": {"name": "limits"},
"mark": {"type": "rule", "strokeWidth": 10},
"encoding": {
"x": {"field": "x_top", "type": "quantitative", "scale": {"domain": [-3, 2], "nice": false, "zero": false}, "axis": null},
"y": {"field": "N_top", "type": "quantitative", "scale": {"domain": [0, 25], "nice": false}, "axis": null},
"x2": {"field": "x_bottom"},
"y2": {"field": "N_bottom"},
"color": {"field": "limit", "type": "nominal", "scale": {"domain": ["cooling (-3/2)", "synchrotron (-2/3)"], "range": ["#0070c0", "#ff33cc"]}, "legend": null}
}
}
],
"resolve": {"axis": {"x": "independent", "y": "independent"}}
},
{
"layer": [
{
"data": {"values": [{}]},
"mark": {"type": "rect", "fill": "white"},
"encoding": {
"x": {"datum": -1.05, "type": "quantitative", "scale": {"domain": [-8.43, 1.74], "nice": false, "zero": false}, "axis": null},
"x2": {"datum": 9},
"y": {"datum": 6.61, "type": "quantitative", "scale": {"domain": [-4.04, 3.24], "nice": false, "zero": false}, "axis": null},
"y2": {"datum": -0.75}
}
},
{
"data": {"values": [{}]},
"mark": {"type": "rect", "fill": "black"},
"encoding": {
"x": {"datum": -11, "type": "quantitative", "scale": {"domain": [-8.43, 1.74], "nice": false, "zero": false}, "axis": null},
"x2": {"datum": -1.05},
"y": {"datum": 7, "type": "quantitative", "scale": {"domain": [-4.04, 3.24], "nice": false, "zero": false}, "axis": null},
"y2": {"datum": 3.45}
}
},
{
"data": {"values": [{}]},
"mark": {"type": "rect", "fill": "black"},
"encoding": {
"x": {"datum": -1.05, "type": "quantitative", "scale": {"domain": [-8.43, 1.74], "nice": false, "zero": false}, "axis": null},
"x2": {"datum": 9},
"y": {"datum": 7, "type": "quantitative", "scale": {"domain": [-4.04, 3.24], "nice": false, "zero": false}, "axis": null},
"y2": {"datum": 6.61}
}
},
{
"data": {"values": [{}]},
"mark": {"type": "rect", "fill": "black"},
"encoding": {
"x": {"datum": -11, "type": "quantitative", "scale": {"domain": [-8.43, 1.74], "nice": false, "zero": false}, "axis": null},
"x2": {"datum": -10.21},
"y": {"datum": 3.45, "type": "quantitative", "scale": {"domain": [-4.04, 3.24], "nice": false, "zero": false}, "axis": null},
"y2": {"datum": -6}
}
},
{
"data": {"values": [{}]},
"mark": {"type": "rect", "fill": "black"},
"encoding": {
"x": {"datum": 2.02, "type": "quantitative", "scale": {"domain": [-8.43, 1.74], "nice": false, "zero": false}, "axis": null},
"x2": {"datum": 9},
"y": {"datum": -0.75, "type": "quantitative", "scale": {"domain": [-4.04, 3.24], "nice": false, "zero": false}, "axis": null},
"y2": {"datum": -6}
}
},
{
"data": {"name": "sketch"},
"transform": [{"filter": "datum.curve === 'axis_x' || datum.curve === 'axis_y'"}],
"mark": {"type": "line", "color": "black", "strokeWidth": 7},
"encoding": {
"x": {"field": "u", "type": "quantitative", "scale": {"domain": [-8.43, 1.74], "nice": false, "zero": false}, "axis": null},
"y": {"field": "v", "type": "quantitative", "scale": {"domain": [-4.04, 3.24], "nice": false, "zero": false}, "axis": null},
"detail": {"field": "curve"},
"order": {"field": "i", "type": "quantitative"}
}
},
{
"data": {"name": "sketch"},
"transform": [{"filter": "datum.curve === 'arrow_x' || datum.curve === 'arrow_y'"}],
"mark": {"type": "line", "color": "black", "strokeWidth": 7, "strokeCap": "round", "strokeJoin": "round"},
"encoding": {
"x": {"field": "u", "type": "quantitative", "scale": {"domain": [-8.43, 1.74], "nice": false, "zero": false}, "axis": null},
"y": {"field": "v", "type": "quantitative", "scale": {"domain": [-4.04, 3.24], "nice": false, "zero": false}, "axis": null},
"detail": {"field": "curve"},
"order": {"field": "i", "type": "quantitative"}
}
},
{
"data": {"name": "sketch"},
"transform": [{"filter": "datum.curve === 'cooling'"}],
"mark": {"type": "line", "color": "#0070c0", "strokeWidth": 10, "interpolate": "monotone"},
"encoding": {
"x": {"field": "u", "type": "quantitative", "scale": {"domain": [-8.43, 1.74], "nice": false, "zero": false}, "axis": null},
"y": {"field": "v", "type": "quantitative", "scale": {"domain": [-4.04, 3.24], "nice": false, "zero": false}, "axis": null},
"order": {"field": "i", "type": "quantitative"}
}
},
{
"data": {"name": "sketch"},
"transform": [{"filter": "indexof(datum.curve, 'sync') === 0"}],
"mark": {"type": "line", "color": "#ff33cc", "strokeWidth": 10, "interpolate": "monotone"},
"encoding": {
"x": {"field": "u", "type": "quantitative", "scale": {"domain": [-8.43, 1.74], "nice": false, "zero": false}, "axis": null},
"y": {"field": "v", "type": "quantitative", "scale": {"domain": [-4.04, 3.24], "nice": false, "zero": false}, "axis": null},
"detail": {"field": "curve"},
"order": {"field": "i", "type": "quantitative"}
}
},
{
"data": {"values": [{}]},
"mark": {"type": "text", "text": "Cooling", "font": "Open Sans", "fontWeight": "bold", "fontSize": 44, "color": "#0070c0", "align": "center", "baseline": "alphabetic"},
"encoding": {
"x": {"datum": 2.78, "type": "quantitative", "scale": {"domain": [-8.43, 1.74], "nice": false, "zero": false}, "axis": null},
"y": {"datum": 5.88, "type": "quantitative", "scale": {"domain": [-4.04, 3.24], "nice": false, "zero": false}, "axis": null}
}
},
{
"data": {"values": [{}]},
"mark": {"type": "text", "text": "νFν ∝ ν", "font": "Open Sans", "fontWeight": "bold", "fontSize": 76, "color": "#0070c0", "align": "left", "baseline": "alphabetic", "angle": -20},
"encoding": {
"x": {"datum": 0.58, "type": "quantitative", "scale": {"domain": [-8.43, 1.74], "nice": false, "zero": false}, "axis": null},
"y": {"datum": 3.8, "type": "quantitative", "scale": {"domain": [-4.04, 3.24], "nice": false, "zero": false}, "axis": null}
}
},
{
"data": {"values": [{}]},
"mark": {"type": "text", "text": "1/2", "font": "Open Sans", "fontWeight": "bold", "fontSize": 52, "color": "#0070c0", "align": "left", "baseline": "alphabetic", "angle": -20},
"encoding": {
"x": {"datum": 3.12, "type": "quantitative", "scale": {"domain": [-8.43, 1.74], "nice": false, "zero": false}, "axis": null},
"y": {"datum": 4.98, "type": "quantitative", "scale": {"domain": [-4.04, 3.24], "nice": false, "zero": false}, "axis": null}
}
},
{
"data": {"values": [{}]},
"mark": {"type": "text", "text": "Log(νF", "font": "Open Sans", "fontWeight": "bold", "fontSize": 46, "color": "#ff1010", "align": "left", "baseline": "alphabetic", "angle": -90},
"encoding": {
"x": {"datum": -0.52, "type": "quantitative", "scale": {"domain": [-8.43, 1.74], "nice": false, "zero": false}, "axis": null},
"y": {"datum": 4.4, "type": "quantitative", "scale": {"domain": [-4.04, 3.24], "nice": false, "zero": false}, "axis": null}
}
},
{
"data": {"values": [{}]},
"mark": {"type": "text", "text": "ν", "font": "Open Sans", "fontWeight": "bold", "fontSize": 24, "color": "#ff1010", "align": "left", "baseline": "alphabetic", "angle": -90},
"encoding": {
"x": {"datum": -0.4, "type": "quantitative", "scale": {"domain": [-8.43, 1.74], "nice": false, "zero": false}, "axis": null},
"y": {"datum": 5.87, "type": "quantitative", "scale": {"domain": [-4.04, 3.24], "nice": false, "zero": false}, "axis": null}
}
},
{
"data": {"values": [{}]},
"mark": {"type": "text", "text": ")", "font": "Open Sans", "fontWeight": "bold", "fontSize": 46, "color": "#ff1010", "align": "left", "baseline": "alphabetic", "angle": -90},
"encoding": {
"x": {"datum": -0.52, "type": "quantitative", "scale": {"domain": [-8.43, 1.74], "nice": false, "zero": false}, "axis": null},
"y": {"datum": 6.02, "type": "quantitative", "scale": {"domain": [-4.04, 3.24], "nice": false, "zero": false}, "axis": null}
}
},
{
"data": {"values": [{}]},
"mark": {"type": "text", "text": "Log(ν)", "font": "Open Sans", "fontWeight": "bold", "fontSize": 46, "color": "#ff1010", "align": "left", "baseline": "alphabetic"},
"encoding": {
"x": {"datum": 6.06, "type": "quantitative", "scale": {"domain": [-8.43, 1.74], "nice": false, "zero": false}, "axis": null},
"y": {"datum": -0.55, "type": "quantitative", "scale": {"domain": [-4.04, 3.24], "nice": false, "zero": false}, "axis": null}
}
},
{
"data": {"values": [{}]},
"mark": {"type": "text", "text": "νFν ∝ ν", "font": "Open Sans", "fontWeight": "bold", "fontSize": 78, "color": "#0070c0", "align": "left", "baseline": "alphabetic"},
"encoding": {
"x": {"datum": 3.38, "type": "quantitative", "scale": {"domain": [-8.43, 1.74], "nice": false, "zero": false}, "axis": null},
"y": {"datum": -2.32, "type": "quantitative", "scale": {"domain": [-4.04, 3.24], "nice": false, "zero": false}, "axis": null}
}
},
{
"data": {"values": [{}]},
"mark": {"type": "text", "text": "1/2", "font": "Open Sans", "fontWeight": "bold", "fontSize": 52, "color": "#0070c0", "align": "left", "baseline": "alphabetic"},
"encoding": {
"x": {"datum": 6.17, "type": "quantitative", "scale": {"domain": [-8.43, 1.74], "nice": false, "zero": false}, "axis": null},
"y": {"datum": -2.1, "type": "quantitative", "scale": {"domain": [-4.04, 3.24], "nice": false, "zero": false}, "axis": null}
}
},
{
"data": {"values": [{}]},
"mark": {"type": "text", "text": "N(ν) ∝ ν", "font": "Open Sans", "fontWeight": "bold", "fontSize": 76, "color": "#0070c0", "align": "left", "baseline": "alphabetic"},
"encoding": {
"x": {"datum": 3.26, "type": "quantitative", "scale": {"domain": [-8.43, 1.74], "nice": false, "zero": false}, "axis": null},
"y": {"datum": -3.52, "type": "quantitative", "scale": {"domain": [-4.04, 3.24], "nice": false, "zero": false}, "axis": null}
}
},
{
"data": {"values": [{}]},
"mark": {"type": "text", "text": "-3/2", "font": "Open Sans", "fontWeight": "bold", "fontSize": 52, "color": "#0070c0", "align": "left", "baseline": "alphabetic"},
"encoding": {
"x": {"datum": 6.29, "type": "quantitative", "scale": {"domain": [-8.43, 1.74], "nice": false, "zero": false}, "axis": null},
"y": {"datum": -3.3, "type": "quantitative", "scale": {"domain": [-4.04, 3.24], "nice": false, "zero": false}, "axis": null}
}
}
]
}
],
"resolve": {"scale": {"x": "independent", "y": "independent"}}
}
